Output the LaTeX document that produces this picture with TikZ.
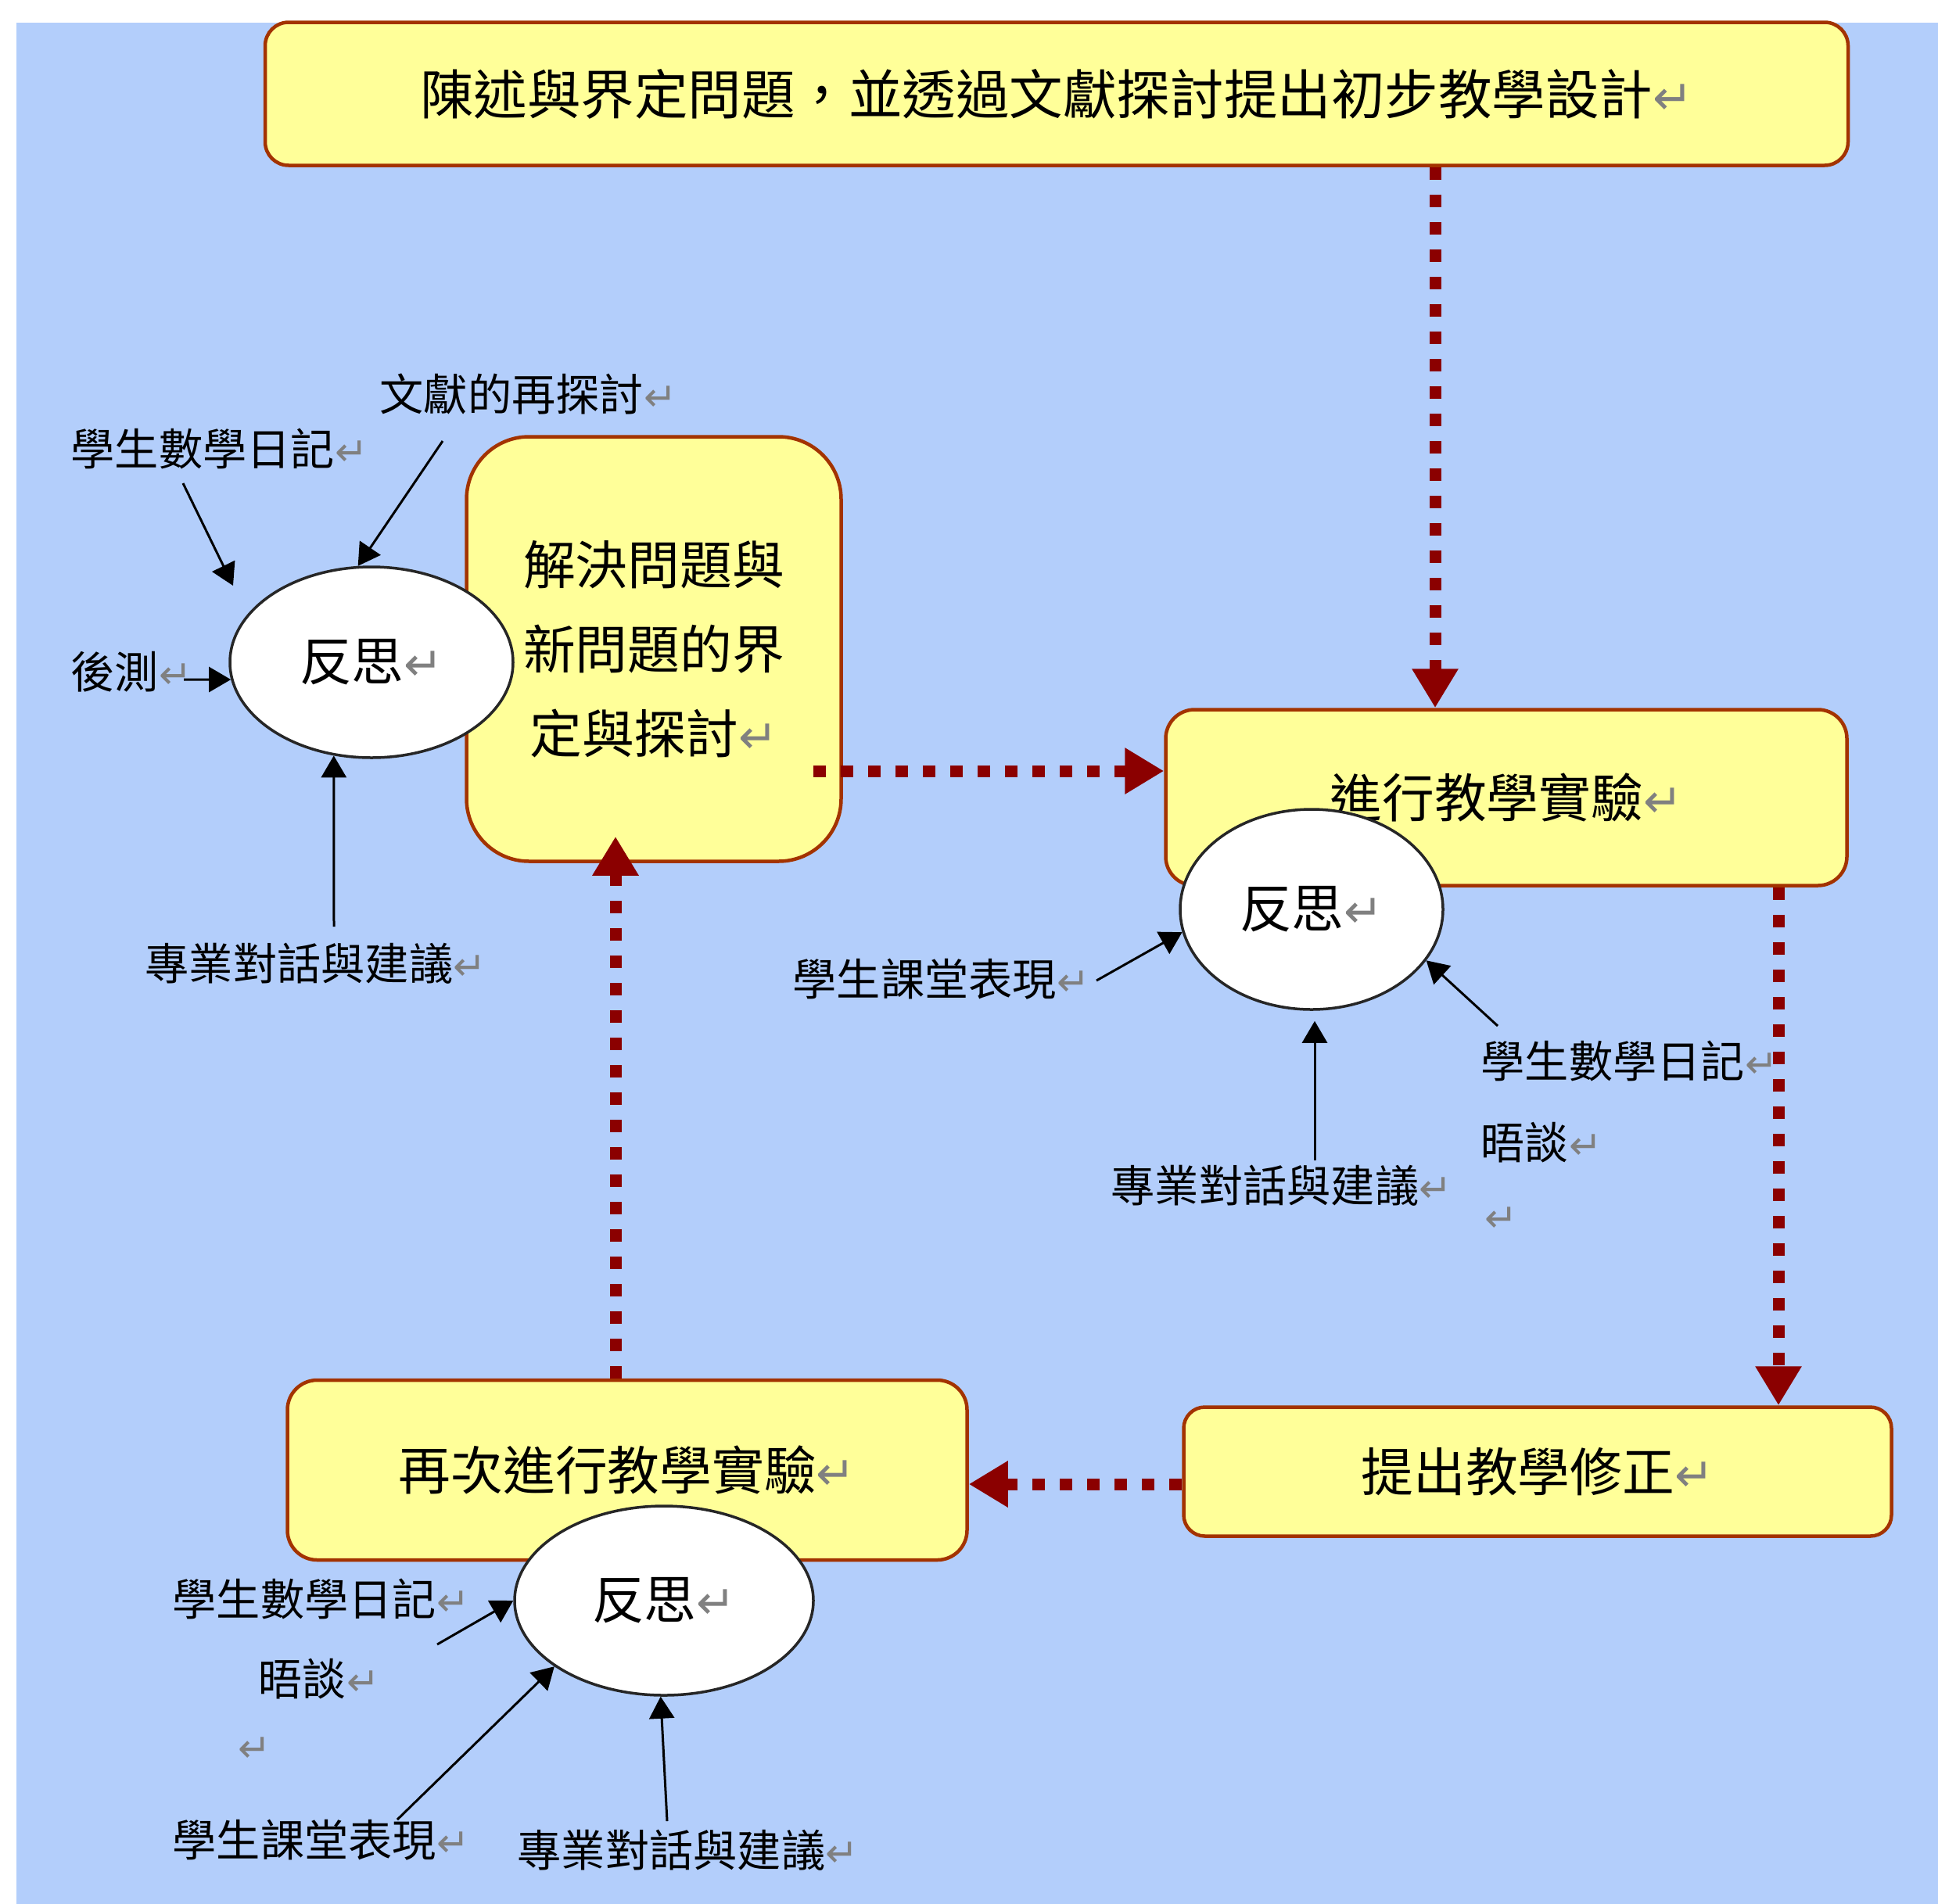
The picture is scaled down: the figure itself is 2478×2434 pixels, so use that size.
\documentclass[tikz,border=0pt]{standalone}
\usepackage{fontspec}
\setmainfont{Noto Sans CJK TC}
\newfontfamily\symb{DejaVu Sans}
\usetikzlibrary{shapes.geometric,arrows.meta,calc}
\definecolor{fondo}{RGB}{179,206,251}
\definecolor{amarillo}{RGB}{255,255,153}
\definecolor{borde}{RGB}{163,51,0}
\definecolor{rojo}{RGB}{139,0,0}
\definecolor{gris}{RGB}{128,128,128}
\newcommand{\retmark}{{\symb\color{gris}\scalebox{0.9}{↵}}}

\begin{document}
\begin{tikzpicture}[x=0.1mm,y=-0.1mm,% 1 unidad = 1 pixel
  etapa/.style={draw=borde,line width=0.45mm,fill=amarillo,rounded corners=#1,
    font=\fontsize{19}{30.7}\selectfont,align=center},
  etapa/.default=3.5mm,
  reflex/.style={ellipse,draw=black!85,line width=0.35mm,fill=white,inner sep=0pt,
    font=\fontsize{19}{23}\selectfont},
  fuente/.style={anchor=west,inner sep=0pt,font=\fontsize{16}{19}\selectfont},
  flujo/.style={draw=rojo,line width=1.5mm,dash pattern=on 1.6mm off 1.9mm,
    -{Triangle[length=5mm,width=5.6mm]}},
  aporte/.style={line width=0.3mm,-{Triangle[length=2.8mm,width=3.2mm]}}]
\useasboundingbox (0,0) rectangle (2478,2434);
\fill[fondo] (21,29) rectangle (2520,2480);% fondo azul

% cajas
\node[etapa=3mm,font=\fontsize{19.5}{24}\selectfont,minimum width=202.4mm,minimum height=18.3mm] (plan) at (1351,120) {陳述與界定問題，並透過文獻探討提出初步教學設計\retmark};
\node[etapa=8mm,minimum width=47.9mm,minimum height=54.3mm] (prob) at (836,830) {解決問題與\\新問題的界\\定與探討\retmark};
\node[etapa=3.7mm,minimum width=87.1mm,minimum height=22.5mm] (exp) at (1926,1020) {進行教學實驗\retmark};
\node[etapa=2.7mm,minimum width=90.5mm,minimum height=16.5mm] (rev) at (1966,1882) {提出教學修正\retmark};
\node[etapa=3.8mm,minimum width=86.9mm,minimum height=23mm] (again) at (802,1880) {再次進行教學實驗\retmark};

\draw[flujo] ([xshift=-9.1mm]exp.north |- plan.south) -- ([xshift=-9.1mm]exp.north);
\draw[flujo,shorten <=-3.8mm] ([yshift=3.4mm]exp.west -| prob.east) -- ([yshift=3.4mm]exp.west);
\draw[flujo] ([xshift=34.8mm]exp.south) -- ([xshift=34.8mm]exp.south |- rev.north);
\draw[flujo] ([yshift=-1.6mm]rev.west) -- ([yshift=-1.6mm]rev.west -| again.east);
\draw[flujo,shorten >=-3.4mm] ([xshift=-1.5mm]again.north) -- ([xshift=-1.5mm]again.north |- prob.south);

% reflexiones
\node[reflex,minimum width=36.2mm,minimum height=24.4mm] (ra) at (475,847) {反思\retmark};
\node[reflex,minimum width=33.6mm,minimum height=25.6mm] (rb) at (1677,1163) {反思\retmark};
\node[reflex,minimum width=38.2mm,minimum height=24.2mm] (rc) at (849,2047) {反思\retmark};

\node[fuente] (diarioA) at (90,574) {學生數學日記\retmark};
\node[fuente] (litA) at (485,504) {文獻的再探討\retmark};
\node[fuente] (testA) at (90,859) {後測\retmark};
\node[fuente] (dialA) at (185,1232) {專業對話與建議\retmark};

\node[fuente] (claseB) at (1013,1252) {學生課堂表現\retmark};
\node[fuente] (diarioB) at (1893,1357) {學生數學日記\retmark};
\node[fuente] (charlaB) at (1893,1461) {晤談\retmark};
\node[fuente] (vacioB) at (1898,1560) {\retmark};
\node[fuente] (dialB) at (1420,1516) {專業對話與建議\retmark};

\node[fuente] (diarioC) at (220,2045) {學生數學日記\retmark};
\node[fuente] (charlaC) at (330,2147) {晤談\retmark};
\node[fuente] (vacioC) at (304,2238) {\retmark};
\node[fuente] (claseC) at (220,2353) {學生課堂表現\retmark};
\node[fuente] (dialC) at (661,2366) {專業對話與建議\retmark};

\coordinate (cA1) at (234,618); \coordinate (cA1h) at (298,749);
\coordinate (cA2) at (566,564);
\coordinate (cA3) at (235,869);
\coordinate (cA4) at (427,1185);
\draw[aporte] (cA1) -- (cA1h);
\draw[aporte] (cA2) -- (ra.98);
\draw[aporte] (cA3) -- (ra.187);
\draw[aporte] (cA4) -- (ra.248);

\coordinate (cB1) at (1402,1254);
\coordinate (cB2) at (1915,1312);
\coordinate (cB3) at (1681,1484);
\draw[aporte] (cB1) -- (rb.190);
\draw[aporte] (cB2) -- (rb.336);
\draw[aporte,shorten >=1.3mm] (cB3) -- (cB3 |- rb.south);

\coordinate (cC1) at (559,2103);
\coordinate (cC2) at (508,2327);
\coordinate (cC3) at (853,2329);
\draw[aporte] (cC1) -- (rc.180);
\draw[aporte] (cC2) -- (rc.211);
\draw[aporte] (cC3) -- (rc.268);
\end{tikzpicture}
\end{document}
